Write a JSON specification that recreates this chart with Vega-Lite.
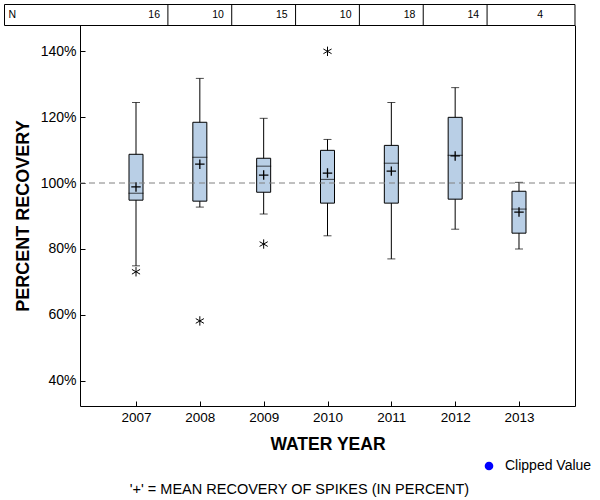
{
  "$schema": "https://vega.github.io/schema/vega-lite/v6.json",
  "width": 495,
  "height": 381,
  "autosize": "none",
  "padding": {"left": 80, "top": 25, "right": 25, "bottom": 94},
  "background": "white",
  "config": {"view": {"stroke": null}, "font": "Liberation Sans"},
  "title": {
    "text": "'+' = MEAN RECOVERY OF SPIKES (IN PERCENT)",
    "orient": "bottom",
    "anchor": "middle",
    "frame": "group",
    "fontSize": 14.5,
    "fontWeight": "normal",
    "color": "black",
    "font": "Liberation Sans",
    "dx": -28,
    "offset": 10
  },
  "datasets": {
    "boxes": [
      {"year": 2007, "n": 16, "low": 74.9, "q1": 94.8, "median": 96.9, "q3": 108.7, "high": 124.4, "mean": 98.8},
      {"year": 2008, "n": 10, "low": 92.7, "q1": 94.5, "median": 107.8, "q3": 118.4, "high": 131.7, "mean": 105.7},
      {"year": 2009, "n": 15, "low": 90.6, "q1": 97.2, "median": 105.1, "q3": 107.5, "high": 119.6, "mean": 102.4},
      {"year": 2010, "n": 10, "low": 84.0, "q1": 93.9, "median": 101.1, "q3": 109.9, "high": 113.2, "mean": 103.0},
      {"year": 2011, "n": 18, "low": 77.0, "q1": 93.9, "median": 106.0, "q3": 111.4, "high": 124.4, "mean": 103.6},
      {"year": 2012, "n": 14, "low": 86.0, "q1": 95.1, "median": 108.4, "q3": 119.9, "high": 128.9, "mean": 108.2},
      {"year": 2013, "n": 4, "low": 80.0, "q1": 84.8, "median": 92.1, "q3": 97.5, "high": 100.2, "mean": 91.2}
    ],
    "outliers": [
      {"year": 2007, "value": 73.1},
      {"year": 2008, "value": 58.2},
      {"year": 2009, "value": 81.5},
      {"year": 2010, "value": 139.9}
    ],
    "header": [{"label": "N"}],
    "legend": [{"type": "Clipped Value"}]
  },
  "resolve": {"axis": {"y": "independent"}},
  "layer": [
    {
      "layer": [
        {
          "data": {"name": "boxes"},
          "mark": {"type": "rule", "color": "black", "strokeWidth": 1},
          "encoding": {
            "x": {
              "field": "year",
              "type": "quantitative",
              "scale": {"domain": [2006.1227, 2013.8773], "nice": false, "zero": false, "padding": 0},
              "axis": {
                "title": "WATER YEAR",
                "values": [2007, 2008, 2009, 2010, 2011, 2012, 2013],
                "format": "d",
                "grid": false,
                "tickSize": -5,
                "tickColor": "black",
                "domainColor": "black",
                "labelColor": "black",
                "labelFontSize": 13.5,
                "labelPadding": 9.5,
                "labelFlush": false,
                "titleFontSize": 17.5,
                "titleFontWeight": "bold",
                "titleColor": "black",
                "titlePadding": 11
              }
            },
            "y": {
              "field": "low",
              "type": "quantitative",
              "scale": {"domain": [32.424, 147.879], "nice": false, "zero": false, "padding": 0},
              "axis": {
                "title": "PERCENT RECOVERY",
                "values": [40, 60, 80, 100, 120, 140],
                "labelExpr": "datum.label + '%'",
                "grid": false,
                "tickSize": -5,
                "tickColor": "black",
                "domainColor": "black",
                "labelColor": "black",
                "labelFontSize": 14,
                "labelPadding": 9,
                "titleFontSize": 18,
                "titleFontWeight": "bold",
                "titleColor": "black",
                "titlePadding": 8
              }
            },
            "y2": {"field": "high"}
          }
        },
        {
          "data": {"name": "boxes"},
          "mark": {"type": "tick", "orient": "horizontal", "color": "black", "size": 8, "thickness": 1},
          "encoding": {
            "x": {"field": "year", "type": "quantitative"},
            "y": {"field": "low", "type": "quantitative"}
          }
        },
        {
          "data": {"name": "boxes"},
          "mark": {"type": "tick", "orient": "horizontal", "color": "black", "size": 8, "thickness": 1},
          "encoding": {
            "x": {"field": "year", "type": "quantitative"},
            "y": {"field": "high", "type": "quantitative"}
          }
        },
        {
          "data": {"name": "boxes"},
          "mark": {"type": "bar", "size": 14, "fill": "#b9cfe6", "stroke": "black", "strokeWidth": 1, "orient": "vertical"},
          "encoding": {
            "x": {"field": "year", "type": "quantitative"},
            "y": {"field": "q1", "type": "quantitative"},
            "y2": {"field": "q3"}
          }
        },
        {
          "data": {"name": "boxes"},
          "mark": {"type": "tick", "orient": "horizontal", "color": "black", "size": 15, "thickness": 1},
          "encoding": {
            "x": {"field": "year", "type": "quantitative"},
            "y": {"field": "median", "type": "quantitative"}
          }
        },
        {
          "data": {"name": "boxes"},
          "mark": {"type": "point", "shape": "M-1,0L1,0M0,-1L0,1", "size": 90, "filled": false, "stroke": "black", "strokeWidth": 1.3, "opacity": 1},
          "encoding": {
            "x": {"field": "year", "type": "quantitative"},
            "y": {"field": "mean", "type": "quantitative"}
          }
        },
        {
          "data": {"name": "outliers"},
          "mark": {"type": "point", "shape": "M0,-1L0,1M-0.87,-0.5L0.87,0.5M-0.87,0.5L0.87,-0.5", "size": 88, "filled": false, "stroke": "black", "strokeWidth": 1, "opacity": 1},
          "encoding": {
            "x": {"field": "year", "type": "quantitative"},
            "y": {"field": "value", "type": "quantitative"}
          }
        },
        {
          "data": {"name": "header"},
          "mark": {"type": "rect", "fill": "white", "stroke": "black", "strokeWidth": 1},
          "encoding": {
            "x": {"datum": 2004.94, "type": "quantitative"},
            "x2": {"datum": 2013.8773},
            "y": {"datum": 147.727, "type": "quantitative"},
            "y2": {"datum": 154.09}
          }
        },
        {
          "data": {"name": "boxes"},
          "transform": [{"filter": "datum.year < 2013"}],
          "mark": {"type": "rule", "color": "black", "strokeWidth": 1, "xOffset": 31.9},
          "encoding": {
            "x": {"field": "year", "type": "quantitative"},
            "y": {"datum": 147.727, "type": "quantitative"},
            "y2": {"datum": 154.09}
          }
        },
        {
          "data": {"name": "boxes"},
          "mark": {"type": "text", "align": "right", "baseline": "middle", "dx": 24, "fontSize": 10.5, "color": "black"},
          "encoding": {
            "x": {"field": "year", "type": "quantitative"},
            "y": {"datum": 151.0, "type": "quantitative"},
            "text": {"field": "n"}
          }
        },
        {
          "data": {"name": "header"},
          "mark": {"type": "text", "align": "left", "baseline": "middle", "dx": 4, "fontSize": 10.5, "color": "black"},
          "encoding": {
            "x": {"datum": 2004.94, "type": "quantitative"},
            "y": {"datum": 151.0, "type": "quantitative"},
            "text": {"field": "label"}
          }
        },
        {
          "data": {"name": "legend"},
          "mark": {"type": "point", "filled": true, "opacity": 0, "size": 75, "shape": "circle"},
          "encoding": {
            "color": {
              "field": "type",
              "type": "nominal",
              "scale": {"range": ["#0000ff"]},
              "legend": {
                "title": null,
                "orient": "none",
                "legendX": 402,
                "legendY": 434,
                "symbolOpacity": 1,
                "symbolSize": 75,
                "symbolType": "circle",
                "labelFontSize": 14,
                "labelColor": "black",
                "labelOffset": 9,
                "padding": 0
              }
            }
          }
        }
      ]
    },
    {
      "data": {"name": "header"},
      "mark": {"type": "rule", "color": "#808080", "strokeWidth": 1, "strokeDash": [6, 4]},
      "encoding": {
        "y": {
          "datum": 100,
          "type": "quantitative",
          "axis": {"orient": "right", "labels": false, "ticks": false, "grid": false, "title": null, "domainColor": "black"}
        }
      }
    }
  ]
}
